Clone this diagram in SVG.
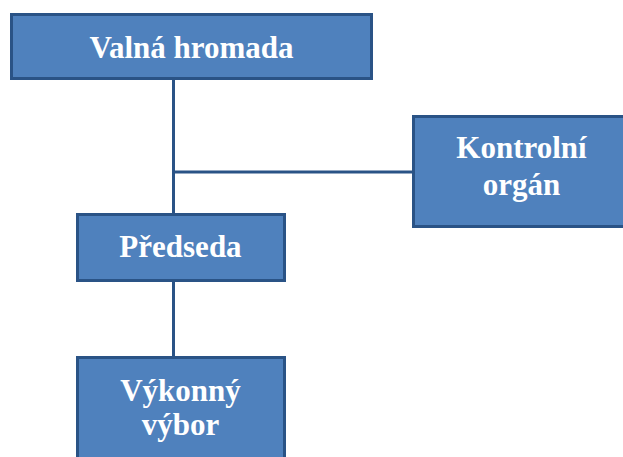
<svg xmlns="http://www.w3.org/2000/svg" width="623" height="457" viewBox="0 0 623 457">
<style>
.box{fill:#4F81BD;stroke:#2A5386;stroke-width:3}
.lbl{font-family:"Liberation Serif","Times New Roman",serif;font-weight:bold;font-size:31px;fill:#FFFFFF;text-anchor:middle}
.conn{stroke:#2A5386;stroke-width:3;fill:none}
</style>
<rect width="623" height="457" fill="#FFFFFF"/>
<g id="connectors">
<path class="conn" d="M173.5 80 V213"/>
<path class="conn" d="M173.5 172 H412"/>
<path class="conn" d="M173.5 282 V356"/>
</g>
<g id="valna-hromada">
<rect class="box" x="11.5" y="14.5" width="360" height="64"/>
<text class="lbl" x="191.5" y="57.5">Valná hromada</text>
</g>
<g id="kontrolni-organ">
<rect class="box" x="413.5" y="116.5" width="230" height="110"/>
<text class="lbl" x="521.5" y="158">Kontrolní</text>
<text class="lbl" x="521.5" y="195">orgán</text>
</g>
<g id="predseda">
<rect class="box" x="77.5" y="214.5" width="207" height="66"/>
<text class="lbl" x="180.5" y="256.5">Předseda</text>
</g>
<g id="vykonny-vybor">
<rect class="box" x="77.5" y="357.5" width="207" height="110"/>
<text class="lbl" x="180.5" y="401">Výkonný</text>
<text class="lbl" x="180.5" y="435">výbor</text>
</g>
</svg>
